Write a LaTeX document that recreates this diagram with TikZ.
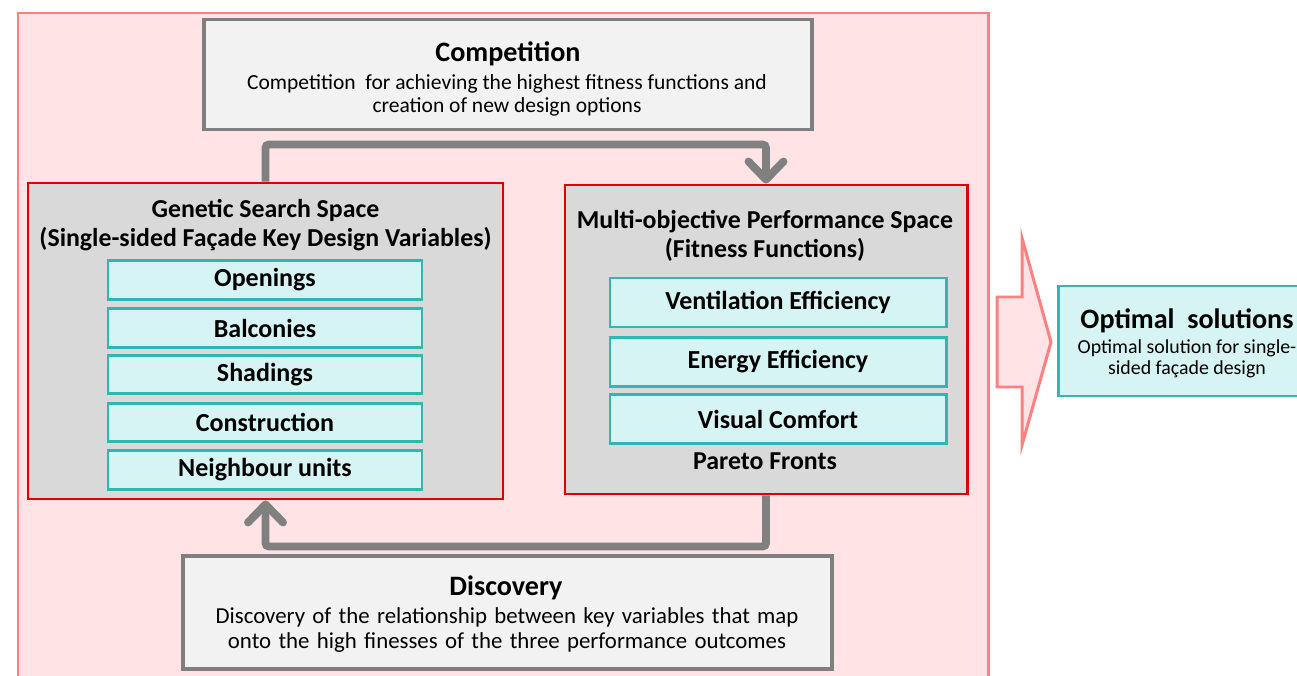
\documentclass[tikz,border=0pt]{standalone}
\usepackage{fontspec}
\setmainfont{Carlito}
\usepackage{xcolor}
\usepackage{tikz}
\usetikzlibrary{arrows.meta, positioning}

\definecolor{regionpink}{RGB}{255,227,229}
\definecolor{regionline}{RGB}{255,128,128}
\definecolor{spacered}{RGB}{224,0,0}
\definecolor{spacegray}{RGB}{217,217,217}
\definecolor{notegray}{RGB}{242,242,242}
\definecolor{framegray}{RGB}{127,127,127}
\definecolor{varfill}{RGB}{214,244,244}
\definecolor{varline}{RGB}{49,182,176}
\definecolor{loopgray}{RGB}{128,128,128}

% wider word spacing for the discovery note
\newcommand{\widebody}{\fontsize{13}{14.2}\selectfont\spaceskip=0.32em\relax}

\tikzset{
  notebox/.style={
    draw=framegray, line width=2.2pt, fill=notegray
  },
  spacebox/.style={
    draw=spacered, line width=1.7pt, fill=spacegray
  },
  varbox/.style={
    draw=varline, line width=1.7pt, fill=varfill,
    font=\fontsize{14.8}{17}\selectfont\bfseries
  },
  headtext/.style={
    font=\fontsize{16}{19}\selectfont\bfseries, align=center
  },
  spacehead/.style={
    font=\fontsize{14.7}{16.4}\selectfont\bfseries, align=center
  },
  bodytext/.style={
    font=\fontsize{12.25}{13}\selectfont, align=center
  },
  looparrow/.style={
    -{Straight Barb[length=3.6mm, width=7mm, round]},
    line width=4.5pt, draw=loopgray, rounded corners=2pt
  },
}

\begin{document}
\begin{tikzpicture}
  \useasboundingbox (0,0) rectangle (25.94,13.5);
  \clip (0,0) rectangle (25.94,13.5);

  % === Optimisation region ===
  \node[draw=regionline, line width=1.7pt, fill=regionpink, minimum width=19.4cm, minimum height=13.6cm] (region) at (10.06, 6.44) {};

  % === Competition ===
  \node[notebox, minimum width=12.16cm, minimum height=2.2cm] (competition) at (10.16, 12.01) {};
  \node[headtext] (comptitle) at (10.16, 12.42) {Competition};
  \node[bodytext] (compbody) at (10.14, 11.60)
    {Competition\ \ for achieving the highest fitness functions and\\creation of new design options};

  % === Genetic search space ===
  \node[spacebox, minimum width=9.5cm, minimum height=6.32cm] (genetic) at (5.31, 6.68) {};
  \node[spacehead] (genetictitle) at (5.31, 9.00)
    {Genetic Search Space\\(Single-sided Façade Key Design Variables)};
  \node[varbox, minimum width=6.28cm, minimum height=0.77cm] (openings) at (5.30, 7.90) {Openings};
  \node[varbox, minimum width=6.28cm, minimum height=0.77cm] (balconies) at (5.30, 6.94) {Balconies};
  \node[varbox, minimum width=6.28cm, minimum height=0.77cm] (shadings) at (5.30, 6.01) {Shadings};
  \node[varbox, minimum width=6.28cm, minimum height=0.77cm] (construction) at (5.30, 5.05) {Construction};
  \node[varbox, minimum width=6.28cm, minimum height=0.77cm] (neighbours) at (5.30, 4.10) {Neighbour units};

  % === Performance space ===
  \node[spacebox, minimum width=8.04cm, minimum height=6.18cm] (multi) at (15.32, 6.71) {};
  \node[spacehead] (multititle) at (15.30, 8.79)
    {Multi-objective Performance Space\\(Fitness Functions)};
  \node[varbox, minimum width=6.72cm, minimum height=0.98cm] (ventilation) at (15.56, 7.45) {Ventilation Efficiency};
  \node[varbox, minimum width=6.72cm, minimum height=0.98cm] (energy) at (15.56, 6.26) {Energy Efficiency};
  \node[varbox, minimum width=6.72cm, minimum height=0.98cm] (visual) at (15.56, 5.12) {Visual Comfort};
  \node[spacehead] (pareto) at (15.30, 4.28) {Pareto Fronts};

  % === Discovery ===
  \node[notebox, minimum width=12.98cm, minimum height=2.26cm] (discovery) at (10.15, 1.25) {};
  \node[headtext] (disctitle) at (10.12, 1.74) {Discovery};
  \node[bodytext, font=\widebody] (discbody) at (10.14, 0.89)
    {Discovery of the relationship between key variables that map\\onto the high finesses of the three performance outcomes};

  % === Loop arrows ===
  \draw[looparrow] (genetic.north) -- ++(0,0.74) -| (multi.north);
  \draw[looparrow] (multi.south) -- ++(0,-1.02) -| (genetic.south);

  % === Output arrow ===
  \draw[draw=regionline, line width=1.7pt, fill=regionpink, line join=miter]
    (19.94, 7.56) -- (20.44, 7.56) -- (20.44, 8.74) -- (21.02, 6.66)
    -- (20.44, 4.60) -- (20.44, 5.76) -- (19.94, 5.76) -- cycle;

  % === Optimal solutions ===
  \node[draw=varline, line width=1.7pt, fill=varfill, minimum width=5.16cm, minimum height=2.2cm] (optimal) at (23.74, 6.68) {};
  \node[headtext] (opttitle) at (23.74, 7.08) {Optimal\ \ solutions};
  \node[font=\fontsize{11.3}{12}\selectfont, align=center] (optbody) at (23.74, 6.33)
    {Optimal solution for single-\\sided façade design};

\end{tikzpicture}
\end{document}
